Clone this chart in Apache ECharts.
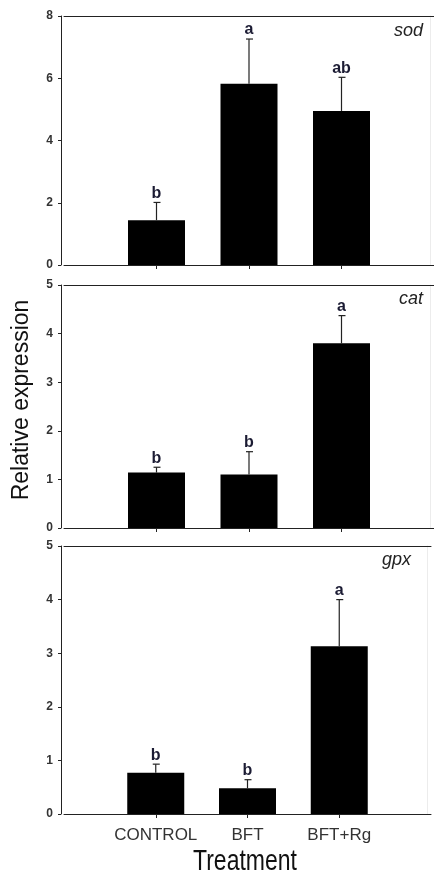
<!DOCTYPE html>
<html><head><meta charset="utf-8">
<script src="https://cdn.jsdelivr.net/npm/echarts/dist/echarts.min.js"></script>
<style>html,body{margin:0;padding:0;background:#fff}#c{width:434px;height:872px}</style>
</head><body><div id="c"></div>
<script>
const categories = ['CONTROL', 'BFT', 'BFT+Rg'];
const sodMean = [1.44, 5.82, 4.95];
const sodSE = [0.57, 1.44, 1.08];
const sodLetters = ['b', 'a', 'ab'];
const catMean = [1.14, 1.10, 3.80];
const catSE = [0.11, 0.47, 0.57];
const catLetters = ['b', 'b', 'a'];
const gpxMean = [0.77, 0.48, 3.13];
const gpxSE = [0.16, 0.16, 0.87];
const gpxLetters = ['b', 'b', 'a'];
const sodAxis = { max: 8, interval: 2 };
const catAxis = { max: 5, interval: 1 };
const gpxAxis = { max: 5, interval: 1 };
const panelNames = ['sod', 'cat', 'gpx'];

const FONT = '"Liberation Sans", Arial, sans-serif';
const panels = [
  { mean: sodMean, se: sodSE, letters: sodLetters, axis: sodAxis, grid: { top: 16, height: 249 } },
  { mean: catMean, se: catSE, letters: catLetters, axis: catAxis, grid: { top: 285, height: 243 } },
  { mean: gpxMean, se: gpxSE, letters: gpxLetters, axis: gpxAxis, grid: { top: 546, height: 268 } }
];
const xData = [''].concat(categories, ['']);

const grid = [], xAxis = [], yAxis = [], series = [];
panels.forEach((p, k) => {
  grid.push({ left: 64, width: 372, top: p.grid.top, height: p.grid.height, containLabel: false, show: false });
  const last = k === panels.length - 1;
  xAxis.push({
    type: 'category', gridIndex: k, data: xData, boundaryGap: false, position: 'bottom',
    axisLine: { onZero: false, lineStyle: { color: '#222', width: 1 } },
    axisTick: { show: true, length: 4, lineStyle: { color: '#222' }, interval: (i) => i >= 1 && i <= 3 },
    axisLabel: { show: last, interval: 0, margin: 13, fontSize: 17, color: '#333', fontFamily: FONT },
    splitLine: { show: false }
  });
  xAxis.push({
    type: 'category', gridIndex: k, data: xData, boundaryGap: false, position: 'top',
    axisLine: { onZero: false, lineStyle: { color: '#222', width: 1 } },
    axisTick: { show: false }, axisLabel: { show: false }, splitLine: { show: false }
  });
  yAxis.push({
    type: 'value', gridIndex: k, min: 0, max: p.axis.max, interval: p.axis.interval, position: 'left', offset: 3,
    axisLine: { show: true, onZero: false, lineStyle: { color: '#222', width: 1 } },
    axisTick: { show: true, length: 3, lineStyle: { color: '#222' } },
    axisLabel: { margin: 8, fontSize: 12, fontWeight: 'bold', color: '#333', fontFamily: FONT },
    splitLine: { show: false }
  });
  yAxis.push({
    type: 'value', gridIndex: k, min: 0, max: p.axis.max, position: 'right', offset: -4,
    axisLine: { show: true, onZero: false, lineStyle: { color: '#ececec', width: 1 } },
    axisTick: { show: false }, axisLabel: { show: false }, splitLine: { show: false }
  });
  series.push({
    type: 'bar', xAxisIndex: 2 * k, yAxisIndex: 2 * k, barWidth: 57,
    itemStyle: { color: '#000' },
    data: categories.map((c, i) => [i + 1, p.mean[i]])
  });
  series.push({
    type: 'custom', xAxisIndex: 2 * k, yAxisIndex: 2 * k, z: 5,
    data: categories.map((c, i) => [i + 1, p.mean[i], p.mean[i] + p.se[i]]),
    renderItem: (params, api) => {
      const x = api.value(0);
      const b = api.coord([x, api.value(1)]);
      const t = api.coord([x, api.value(2)]);
      const cap = 3;
      const ls = { stroke: '#222', lineWidth: 1.2 };
      return {
        type: 'group', children: [
          { type: 'line', shape: { x1: b[0], y1: b[1], x2: t[0], y2: t[1] }, style: ls },
          { type: 'line', shape: { x1: t[0] - cap, y1: t[1], x2: t[0] + cap + 1, y2: t[1] }, style: ls },
          { type: 'text', style: { text: p.letters[params.dataIndex], x: t[0], y: t[1] - 1,
              textAlign: 'center', align: 'center', textVerticalAlign: 'bottom', verticalAlign: 'bottom',
              font: 'bold 16px ' + FONT, fill: '#1b1b33' } }
        ]
      };
    }
  });
});

const titlePos = [[423, 31], [423, 299], [411, 560]];
const graphic = panelNames.map((n, k) => ({
  type: 'text', x: titlePos[k][0], y: titlePos[k][1], z: 10,
  style: { text: n, font: 'italic 18px ' + FONT, fill: '#222',
    textAlign: 'right', align: 'right', textVerticalAlign: 'middle', verticalAlign: 'middle' }
}));
graphic.push({
  type: 'text', x: 22, y: 400, rotation: Math.PI / 2, z: 10,
  style: { text: 'Relative expression', font: '23px ' + FONT, fill: '#111',
    textAlign: 'center', align: 'center', textVerticalAlign: 'middle', verticalAlign: 'middle' }
});
graphic.push({
  type: 'text', x: 245, y: 847, scaleY: 1.3, z: 10,
  style: { text: 'Treatment', font: '23px ' + FONT, fill: '#111',
    textAlign: 'center', align: 'center', textVerticalAlign: 'top', verticalAlign: 'top' }
});

const chart = echarts.init(document.getElementById('c'), null, { renderer: 'canvas' });
chart.setOption({ animation: false, backgroundColor: '#fff', grid, xAxis, yAxis, series, graphic });
</script></body></html>
